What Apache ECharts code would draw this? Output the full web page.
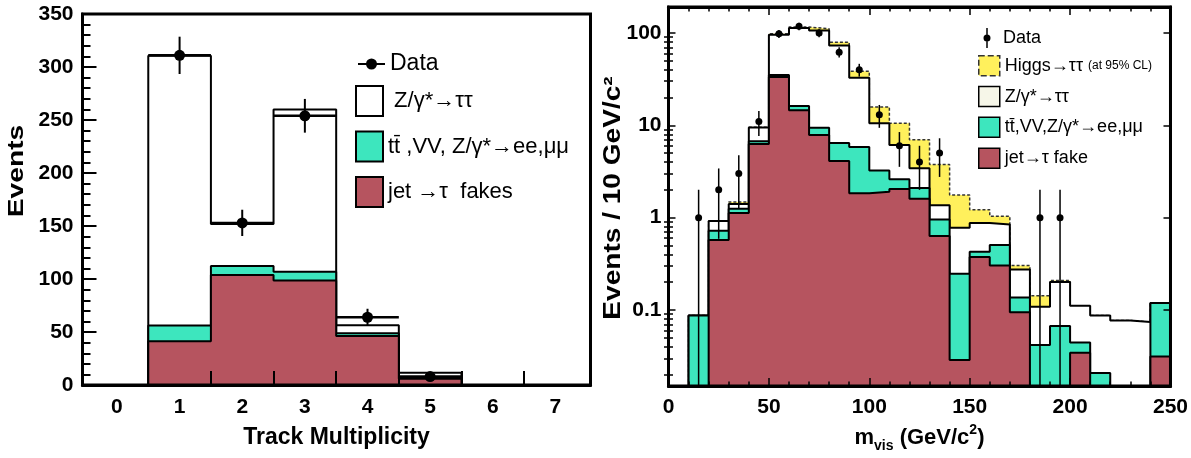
<!DOCTYPE html>
<html><head><meta charset="utf-8">
<script src="https://cdn.jsdelivr.net/npm/echarts@6/dist/echarts.min.js"></script>
<style>html,body{margin:0;padding:0;background:#fff}#c{width:1191px;height:458px}</style>
</head><body><div id="c"></div>
<script>
// ---------- Left panel: track multiplicity ----------
const trackBins = [0, 1, 2, 3, 4, 5, 6, 7];
const trackTickLabels = ['0', '1', '2', '3', '4', '5', '6', '7'];
const trackZtautauTop = [0, 310.7, 152, 260, 56.5, 11.6, 0, 0];   // stacked top of Z/γ*→ττ
const trackEwkTop     = [0, 56.2, 112.4, 106.9, 48.8, 6.8, 0, 0];  // stacked top of tt̄,VV,Z→ee,μμ
const trackFakeTop    = [0, 41.4, 103.8, 98.6, 46.4, 6.0, 0, 0];   // jet→τ fakes
const trackDataX   = [1, 2, 3, 4, 5];
const trackData    = [311, 153, 254, 64, 8];
const trackDataErr = [17.6, 12.4, 15.9, 8, 2.8];

// ---------- Right panel: visible mass ----------
const massEdges = [0, 10, 20, 30, 40, 50, 60, 70, 80, 90, 100, 110, 120, 130, 140, 150, 160, 170, 180, 190, 200, 210, 220, 230, 240, 250];
const massHiggsTop   = [0, 0.087, 0.92, 1.48, 9.5, 98.3, 116, 111, 79.4, 38.4, 15.8, 10.5, 6.97, 3.77, 1.76, 1.22, 1.035, 0.303, 0.1425, 0.209, 0.111, 0.087, 0.077, 0.074, 0.119];
const massZtautauTop = [0, 0.087, 0.92, 1.41, 9.45, 95.9, 113, 106.6, 73, 32.7, 10.5, 6.12, 3.42, 1.36, 0.776, 0.877, 0.845, 0.275, 0.1087, 0.201, 0.111, 0.087, 0.077, 0.074, 0.119];
const massEwkTop     = [0, 0.087, 0.72, 1.25, 6.7, 35.0, 16.2, 9.4, 6.43, 5.82, 3.25, 2.61, 2.09, 0.953, 0.247, 0.428, 0.507, 0.137, 0.0417, 0.067, 0.0446, 0.0208, 0, 0, 0.119];
const massFakeTop    = [0, 0, 0.574, 1.12, 6.27, 33.3, 14.6, 7.87, 4.1, 1.84, 1.91, 2.04, 1.60, 0.632, 0.0288, 0.374, 0.303, 0.0944, 0, 0, 0.0345, 0, 0, 0, 0.0313];
const massDataX   = [15, 25, 35, 45, 55, 65, 75, 85, 95, 105, 115, 125, 135, 185, 195];
const massData    = [1, 2, 3, 11, 98, 118, 100, 62, 40, 13, 6, 4, 5, 1, 1];
const massDataErr = [1, 1.41, 1.73, 3.32, 9.9, 10.86, 10, 7.87, 6.32, 3.61, 2.45, 2, 2.24, 1, 1];
const massYLabels = [0.1, 1, 10, 100];

// ---------- styling ----------
const FONT = '"Liberation Sans", Arial, sans-serif';
const RED = '#b6545f', GREEN = '#3de6be', YELLOW = '#fff05c', CREAM = '#f6f6e8';
const LOG_MIN = 0.015, LOG_MAX = 191, LOG_FLOOR = 1e-4;

const N_DATA_L = 'Data', N_Z_L = ' Z/γ*→ττ', N_EWK_L = 'tt̄ ,VV, Z/γ*→ee,μμ', N_FAKE_L = 'jet →τ  fakes';
const N_DATA_R = 'Data ', N_H_R = 'Higgs→ττ (at 95% CL)', N_Z_R = 'Z/γ*→ττ', N_EWK_R = 'tt̄,VV,Z/γ*→ee,μμ', N_FAKE_R = 'jet→τ fake';

function stepPoints(edges, vals, floor) {
  const pts = [];
  for (let i = 0; i < vals.length; i++) pts.push([edges[i], vals[i] > 0 ? vals[i] : floor]);
  const last = vals[vals.length - 1];
  pts.push([edges[vals.length], last > 0 ? last : floor]);
  return pts;
}
const trackEdges = trackBins.map(b => b - 0.5).concat([trackBins[trackBins.length - 1] + 0.5]);
const trackHalfWidth = (trackBins[1] - trackBins[0]) / 2;

function histSeries(name, xi, yi, pts, fill, line, z) {
  return {
    type: 'line', name: name, xAxisIndex: xi, yAxisIndex: yi, step: 'end', symbol: 'none',
    data: pts, clip: true, silent: true, z: z,
    itemStyle: { color: fill },
    lineStyle: Object.assign({ color: '#000', width: 2 }, line || {}),
    areaStyle: { color: fill, opacity: 1, origin: 'start' }
  };
}

const massMinorTicks = [];
[0.01, 0.1, 1, 10, 100].forEach(d => {
  for (let k = 2; k <= 9; k++) {
    const v = +(k * d).toPrecision(3);
    if (v > LOG_MIN && v < LOG_MAX) massMinorTicks.push(v);
  }
});

const LEFT_DATA_ICON = 'path://M0,0L0.01,0L0,0.01Z M27,11L26.99,11L27,10.99Z M0,4.5L27,4.5L27,6.5L0,6.5Z M8,5.5A5.5,5.5 0 1 1 19,5.5A5.5,5.5 0 1 1 8,5.5Z';
const RIGHT_DATA_ICON = 'path://M0,0L0.01,0L0,0.01Z M20,20L19.99,20L20,19.99Z M8.25,0L9.75,0L9.75,20L8.25,20Z M5.5,10A3.5,3.5 0 1 1 12.5,10A3.5,3.5 0 1 1 5.5,10Z';

const chart = echarts.init(document.getElementById('c'), null, { renderer: 'canvas' });

const axisLine3 = { show: true, onZero: false, lineStyle: { color: '#000', width: 3 } };
const tickFont = { fontSize: 21, fontWeight: 'bold', fontFamily: FONT, color: '#000' };

const option = {
  animation: false,
  backgroundColor: '#fff',
  grid: [
    { left: 82.5, right: 600.5, top: 14, bottom: 64.4, show: true, borderColor: '#000', borderWidth: 3, z: 10 },
    { left: 668.5, right: 19, top: 7, bottom: 66.5, show: true, borderColor: '#000', borderWidth: 3, z: 10 }
  ],
  xAxis: [
    {
      gridIndex: 0, type: 'value', min: -0.55, max: 7.56, z: 10,
      axisLine: axisLine3,
      axisTick: { show: true, inside: true, length: 14, lineStyle: { color: '#000', width: 2 }, customValues: trackEdges.slice(2, 8) },
      axisLabel: Object.assign({ show: true, customValues: trackBins, formatter: v => trackTickLabels[trackBins.indexOf(Math.round(v))], margin: 12 }, tickFont),
      splitLine: { show: false },
      name: 'Track Multiplicity', nameLocation: 'middle', nameGap: 35,
      nameTextStyle: { fontSize: 23, fontWeight: 'bold', fontFamily: FONT, color: '#000', lineHeight: 30 }
    },
    {
      gridIndex: 1, type: 'value', min: 0, max: 250, interval: 50, z: 10,
      axisLine: axisLine3,
      axisTick: { show: true, inside: true, length: 8, lineStyle: { color: '#000', width: 1.5 } },
      minorTick: { show: true, splitNumber: 5, length: 4.5, lineStyle: { color: '#000', width: 1.5 } },
      axisLabel: Object.assign({ margin: 11 }, tickFont),
      splitLine: { show: false },
      name: 'm{sub|vis} (GeV/c{sup|2})', nameLocation: 'middle', nameGap: 36,
      nameTextStyle: {
        fontSize: 22, fontWeight: 'bold', fontFamily: FONT, color: '#000', lineHeight: 30,
        rich: {
          sub: { fontSize: 14, fontWeight: 'bold', fontFamily: FONT, color: '#000', verticalAlign: 'bottom', lineHeight: 5 },
          sup: { fontSize: 14, fontWeight: 'bold', fontFamily: FONT, color: '#000', verticalAlign: 'top', lineHeight: 16 }
        }
      }
    },
    {
      gridIndex: 1, type: 'value', position: 'top', min: 0, max: 250, interval: 50, z: 10,
      axisLine: axisLine3,
      axisTick: { show: true, inside: true, length: 8, lineStyle: { color: '#000', width: 1.5 } },
      minorTick: { show: true, splitNumber: 5, length: 4.5, lineStyle: { color: '#000', width: 1.5 } },
      axisLabel: { show: false }, splitLine: { show: false }
    }
  ],
  yAxis: [
    {
      gridIndex: 0, type: 'value', min: 0, max: 350, interval: 50, z: 10,
      axisLine: axisLine3,
      axisTick: { show: true, inside: true, length: 14, lineStyle: { color: '#000', width: 2 } },
      minorTick: { show: true, splitNumber: 5, length: 8, lineStyle: { color: '#000', width: 2 } },
      axisLabel: Object.assign({ margin: 9 }, tickFont),
      splitLine: { show: false }
    },
    {
      gridIndex: 1, type: 'log', logBase: 10, min: LOG_MIN, max: LOG_MAX, position: 'left', z: 10,
      axisLine: axisLine3,
      axisTick: { show: true, inside: true, length: 7, lineStyle: { color: '#000', width: 1.5 }, customValues: massYLabels },
      axisLabel: Object.assign({ show: true, customValues: massYLabels, formatter: v => String(massYLabels.find(m => Math.abs(m - v) / m < 1e-6) ?? v), margin: 7 }, tickFont),
      splitLine: { show: false }
    },
    {
      gridIndex: 1, type: 'log', logBase: 10, min: LOG_MIN, max: LOG_MAX, position: 'left', z: 10,
      axisLine: { show: false },
      axisTick: { show: true, inside: true, length: 4.5, lineStyle: { color: '#000', width: 1.5 }, customValues: massMinorTicks },
      axisLabel: { show: false }, splitLine: { show: false }
    },
    {
      gridIndex: 1, type: 'log', logBase: 10, min: LOG_MIN, max: LOG_MAX, position: 'right', z: 10,
      axisLine: axisLine3,
      axisTick: { show: true, inside: true, length: 7, lineStyle: { color: '#000', width: 1.5 }, customValues: massYLabels },
      axisLabel: { show: false }, splitLine: { show: false }
    },
    {
      gridIndex: 1, type: 'log', logBase: 10, min: LOG_MIN, max: LOG_MAX, position: 'right', z: 10,
      axisLine: { show: false },
      axisTick: { show: true, inside: true, length: 4.5, lineStyle: { color: '#000', width: 1.5 }, customValues: massMinorTicks },
      axisLabel: { show: false }, splitLine: { show: false }
    }
  ],
  legend: [
    {
      selectedMode: false, orient: 'vertical', left: 358, top: 51, padding: 0, itemWidth: 27, itemHeight: 11,
      textStyle: { fontSize: 23, fontFamily: FONT, color: '#000', lineHeight: 26 },
      data: [{ name: N_DATA_L, icon: LEFT_DATA_ICON, itemStyle: { color: '#000', borderWidth: 0 } }]
    },
    {
      selectedMode: false, orient: 'vertical', left: 355, top: 85, padding: 0, itemWidth: 27, itemHeight: 30, itemGap: 13.5,
      textStyle: { fontSize: 22, fontFamily: FONT, color: '#000', lineHeight: 26 },
      data: [
        { name: N_Z_L, icon: 'rect', itemStyle: { color: '#fff', borderColor: '#000', borderWidth: 2 } },
        { name: N_EWK_L, icon: 'rect', itemStyle: { color: GREEN, borderColor: '#000', borderWidth: 2 } },
        { name: N_FAKE_L, icon: 'rect', itemStyle: { color: RED, borderColor: '#000', borderWidth: 2 } }
      ]
    },
    {
      selectedMode: false, orient: 'vertical', left: 978, top: 28, padding: 0, itemWidth: 20, itemHeight: 20,
      textStyle: { fontSize: 18, fontFamily: FONT, color: '#000', lineHeight: 20 },
      data: [{ name: N_DATA_R, icon: RIGHT_DATA_ICON, itemStyle: { color: '#000', borderWidth: 0 } }]
    },
    {
      selectedMode: false, orient: 'vertical', left: 978, top: 55, padding: 0, itemWidth: 21, itemHeight: 20, itemGap: 9.3,
      formatter: n => n === N_H_R ? 'Higgs→ττ {s|(at 95% CL)}' : n,
      textStyle: { fontSize: 18, fontFamily: FONT, color: '#000', lineHeight: 20, rich: { s: { fontSize: 12, fontFamily: FONT, color: '#000' } } },
      data: [
        { name: N_H_R, icon: 'rect', itemStyle: { color: YELLOW, borderColor: '#333', borderWidth: 1.5, borderType: 'dashed' } },
        { name: N_Z_R, icon: 'rect', itemStyle: { color: CREAM, borderColor: '#000', borderWidth: 1.5 } },
        { name: N_EWK_R, icon: 'rect', itemStyle: { color: GREEN, borderColor: '#000', borderWidth: 1.5 } },
        { name: N_FAKE_R, icon: 'rect', itemStyle: { color: RED, borderColor: '#000', borderWidth: 1.5 } }
      ]
    }
  ],
  graphic: [
    { type: 'text', x: 17, y: 171, rotation: Math.PI / 2, scaleX: 1.28, z: 20,
      style: { text: 'Events', font: 'bold 22px ' + FONT, fill: '#000', align: 'center', verticalAlign: 'middle' } },
    { type: 'text', x: 614, y: 198, rotation: Math.PI / 2, scaleX: 1.22, z: 20,
      style: { text: 'Events / 10 GeV/c²', font: 'bold 23px ' + FONT, fill: '#000', align: 'center', verticalAlign: 'middle' } }
  ],
  series: [
    // left panel
    histSeries(N_Z_L, 0, 0, stepPoints(trackEdges, trackZtautauTop, 0), '#ffffff', null, 2),
    histSeries(N_EWK_L, 0, 0, stepPoints(trackEdges, trackEwkTop, 0), GREEN, null, 3),
    histSeries(N_FAKE_L, 0, 0, stepPoints(trackEdges, trackFakeTop, 0), RED, null, 4),
    {
      type: 'custom', name: N_DATA_L, xAxisIndex: 0, yAxisIndex: 0, z: 6, silent: true,
      itemStyle: { color: '#000' },
      data: trackDataX.map((x, i) => [x, trackData[i], trackDataErr[i]]),
      encode: { x: 0, y: 1 },
      renderItem: function (params, api) {
        const x = api.value(0), y = api.value(1), e = api.value(2);
        const c = api.coord([x, y]);
        const l = api.coord([x - trackHalfWidth, y]), r = api.coord([x + trackHalfWidth, y]);
        const t = api.coord([x, y + e]), b = api.coord([x, y - e]);
        return { type: 'group', children: [
          { type: 'line', shape: { x1: l[0], y1: c[1], x2: r[0], y2: c[1] }, style: { stroke: '#000', lineWidth: 2.5 } },
          { type: 'line', shape: { x1: c[0], y1: t[1], x2: c[0], y2: b[1] }, style: { stroke: '#000', lineWidth: 2 } },
          { type: 'circle', shape: { cx: c[0], cy: c[1], r: 5.5 }, style: { fill: '#000' } }
        ] };
      }
    },
    // right panel
    histSeries(N_H_R, 1, 1, stepPoints(massEdges, massHiggsTop, LOG_FLOOR), YELLOW, { color: '#333', width: 1.5, type: [3, 2] }, 2),
    histSeries(N_Z_R, 1, 1, stepPoints(massEdges, massZtautauTop, LOG_FLOOR), '#ffffff', { width: 2 }, 3),
    histSeries(N_EWK_R, 1, 1, stepPoints(massEdges, massEwkTop, LOG_FLOOR), GREEN, { width: 2 }, 4),
    histSeries(N_FAKE_R, 1, 1, stepPoints(massEdges, massFakeTop, LOG_FLOOR), RED, { width: 2 }, 5),
    {
      type: 'custom', name: N_DATA_R, xAxisIndex: 1, yAxisIndex: 1, z: 6, silent: true, clip: true,
      itemStyle: { color: '#000' },
      data: massDataX.map((x, i) => [x, massData[i], massDataErr[i]]),
      encode: { x: 0, y: 1 },
      renderItem: function (params, api) {
        const x = api.value(0), y = api.value(1), e = api.value(2);
        const c = api.coord([x, y]);
        const t = api.coord([x, y + e]);
        const b = api.coord([x, y - e > 0 ? y - e : LOG_FLOOR]);
        return { type: 'group', children: [
          { type: 'line', shape: { x1: c[0], y1: t[1], x2: c[0], y2: b[1] }, style: { stroke: '#000', lineWidth: 1.5 } },
          { type: 'circle', shape: { cx: c[0], cy: c[1], r: 3.5 }, style: { fill: '#000' } }
        ] };
      }
    }
  ]
};
chart.setOption(option);
</script>
</body></html>
